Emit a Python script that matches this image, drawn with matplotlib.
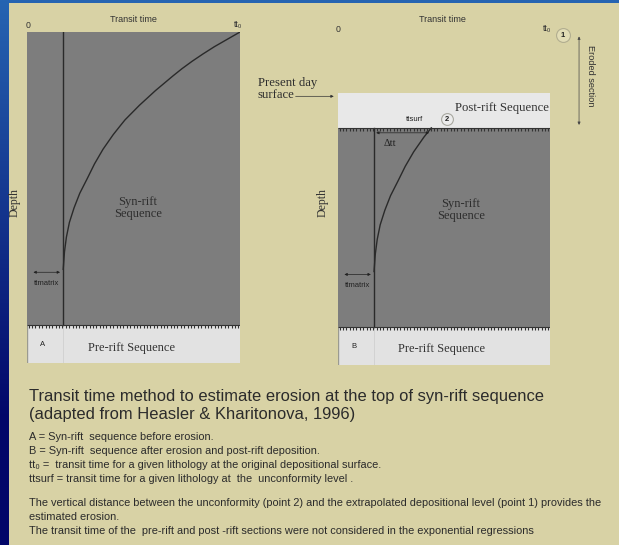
import numpy as np
import matplotlib
matplotlib.use("Agg")
import matplotlib.pyplot as plt
from matplotlib import patheffects as pe

W, H, DPI = 619, 545, 100

# Schematic depth levels (fraction of the original syn-rift thickness,
# 0 = original depositional surface)
SYN_BASE = 1.0
PRE_BASE = 1.13
UNCONFORMITY = 0.318
PRESENT_SURFACE = 0.199

# Normalised transit times
TT0 = 1.0
TT_MATRIX = 0.17

# Compaction trend of the syn-rift sequence: transit time vs depth
depth = [0.000, 0.025, 0.050, 0.075, 0.100, 0.125, 0.150, 0.200, 0.250, 0.300,
         0.318, 0.350, 0.400, 0.450, 0.500, 0.550, 0.600, 0.650, 0.700, 0.750, 0.810]
transit_time = [1.000, 0.940, 0.880, 0.826, 0.775, 0.728, 0.685, 0.603, 0.528, 0.460,
                0.440, 0.405, 0.357, 0.317, 0.283, 0.248, 0.221, 0.199, 0.185, 0.176, 0.170]

title_lines = ["Transit time method to estimate erosion at the top of syn-rift sequence",
               "(adapted from Heasler & Kharitonova, 1996)"]
note_lines = ["A = Syn-rift  sequence before erosion.",
              "B = Syn-rift  sequence after erosion and post-rift deposition.",
              "tt\u2080 =  transit time for a given lithology at the original depositional surface.",
              "ttsurf = transit time for a given lithology at  the  unconformity level ."]
remark_lines = ["The vertical distance between the unconformity (point 2) and the extrapolated depositional level (point 1) provides the",
                "estimated erosion.",
                "The transit time of the  pre-rift and post -rift sections were not considered in the exponential regressions"]

BEIGE = "#D8D2A5"
GRAY = "#7D7D7D"
LIGHT = "#E2E2E2"
POST = "#E8E8E8"
INK = "#2A2A2A"
SERIF = ["Liberation Serif", "DejaVu Serif"]
SANS = ["Liberation Sans", "DejaVu Sans"]

fig = plt.figure(figsize=(W / DPI, H / DPI), dpi=DPI)

# ---- background: blue slide frame with beige page ----
bg = fig.add_axes([0, 0, 1, 1], zorder=0)
bg.set_xlim(0, W)
bg.set_ylim(H, 0)
bg.axis("off")
yy = np.linspace(0, 1, 200)[:, None]
xx = np.linspace(0, 1, 200)[None, :]
top_c = np.array([38, 100, 178]) / 255
bot_c = np.array([2, 6, 105]) / 255
t = np.clip(yy * 1.3 - xx * 0.1, 0, 1)
grad = top_c[None, None, :] * (1 - t[..., None]) + bot_c[None, None, :] * t[..., None]
bg.imshow(grad, extent=[0, W, H, 0], aspect="auto", zorder=0)
bg.add_patch(plt.Rectangle((9, 3), W - 9, H - 3, color=BEIGE, lw=0, zorder=1))


def px_axes(left, top, right, bottom):
    return fig.add_axes([left / W, 1 - bottom / H, (right - left) / W, (bottom - top) / H],
                        zorder=2)


def unconformity(ax, level):
    ax.plot([0, TT0], [level, level], color="#333333", lw=0.8,
            path_effects=[pe.withTickedStroke(angle=-90, spacing=2.4, length=0.9)],
            solid_capstyle="butt", zorder=5)


def panel(ax, letter, eroded):
    ax.set_xlim(0, TT0)
    ax.set_ylim(PRE_BASE, 0)
    ax.axis("off")
    top = UNCONFORMITY if eroded else 0.0
    ax.fill_between([0, TT0], top, SYN_BASE, color=GRAY, lw=0, zorder=1)
    ax.fill_between([0, TT0], SYN_BASE, PRE_BASE, color=LIGHT, lw=0, zorder=1)
    ax.plot([0, 0], [SYN_BASE, PRE_BASE], color="#9A9A90", lw=1.0, zorder=2)
    if eroded:
        ax.fill_between([0, TT0], PRESENT_SURFACE, UNCONFORMITY, color=POST, lw=0, zorder=1)
        unconformity(ax, UNCONFORMITY)
    unconformity(ax, SYN_BASE)
    ax.plot([TT_MATRIX, TT_MATRIX], [top, SYN_BASE], color=INK, lw=1.0, zorder=3)
    ax.plot([TT_MATRIX, TT_MATRIX], [SYN_BASE, PRE_BASE], color="#CFCFCF", lw=0.6, zorder=2)

    d = np.array(depth)
    tt = np.array(transit_time)
    keep = d >= top - 1e-9
    ax.plot(tt[keep], d[keep], color=INK, lw=1.0, zorder=3, solid_joinstyle="round")

    # ttmatrix arrow
    ax.annotate("", xy=(0.03, 0.82), xytext=(TT_MATRIX - 0.015, 0.82),
                arrowprops=dict(arrowstyle="<|-|>", color="#222", lw=0.5,
                                mutation_scale=4, shrinkA=0, shrinkB=0), zorder=4)
    ax.text(0.09, 0.858, "ttmatrix", fontsize=5.5, family=SANS, color="#222",
            ha="center", va="center", zorder=4)

    ax.text(0.52 if not eroded else 0.58, 0.60, "Syn-rift\nSequence", family=SERIF,
            fontsize=9, color="#2E2E2E", ha="center", va="center", linespacing=1.05, zorder=4)
    ax.text(0.075, 1.066, letter, family=SANS, fontsize=5.5, color="#222",
            ha="center", va="center", zorder=4)
    ax.text(0.49, 1.077, "Pre-rift Sequence", family=SERIF, fontsize=9,
            color="#333", ha="center", va="center", zorder=4)


axA = px_axes(27, 32, 240, 32 + PRE_BASE * 293)
axB = px_axes(338, 35, 550, 35 + PRE_BASE * 292)
panel(axA, "A", eroded=False)
panel(axB, "B", eroded=True)

# ---- panel B extras ----
i_unc = depth.index(UNCONFORMITY)
tt_surf = transit_time[i_unc]
axB.annotate("", xy=(TT_MATRIX + 0.01, UNCONFORMITY + 0.017),
             xytext=(tt_surf - 0.01, UNCONFORMITY + 0.017),
             arrowprops=dict(arrowstyle="<|-|>", color="#222", lw=0.5,
                             mutation_scale=4, shrinkA=0, shrinkB=0), zorder=4)
axB.text(0.245, 0.372, "\u0394tt", family=SERIF, fontsize=7.5, color="#222",
         ha="center", va="center", zorder=4)
axB.text(0.36, 0.288, "ttsurf", family=SANS, fontsize=5.5, color="#222",
         ha="center", va="center", zorder=4)
axB.plot([0.514], [0.288], "o", ms=8.5, mfc="#ECECEC", mec="#A8A8A0", mew=0.8,
         zorder=4)
axB.text(0.514, 0.29, "2", family=SANS, fontsize=5.5, weight="bold", color="#222",
         ha="center", va="center", zorder=5)
axB.text(0.995, 0.25, "Post-rift Sequence", family=SERIF, fontsize=9.2, color="#333",
         ha="right", va="center", zorder=4)

# point 1 at the original depositional surface
axB.plot([1.06], [0.0], "o", ms=10, mfc="#E2DDB6", mec="#B2AE90", mew=0.8,
         zorder=4, clip_on=False)
axB.text(1.06, 0.002, "1", family=SANS, fontsize=5.5, weight="bold", color="#222",
         ha="center", va="center", zorder=5, clip_on=False)

# eroded section arrow
axB.annotate("", xy=(1.137, 0.005), xytext=(1.137, UNCONFORMITY - 0.01),
             arrowprops=dict(arrowstyle="<|-|>", color="#444", lw=0.5,
                             mutation_scale=4, shrinkA=0, shrinkB=0),
             annotation_clip=False)
axB.text(1.19, 0.14, "Eroded section", family=SANS, fontsize=6.6, color="#333",
         rotation=-90, ha="center", va="center", clip_on=False)

# present day surface
axB.annotate("", xy=(-0.02, 0.21), xytext=(-0.2, 0.21),
             arrowprops=dict(arrowstyle="-|>", color="#333", lw=0.5,
                             mutation_scale=4, shrinkA=0, shrinkB=0),
             annotation_clip=False)
axB.text(-0.378, 0.185, "Present day\nsurface", family=SERIF, fontsize=9.2,
         color="#2E2E2E", ha="left", va="center", linespacing=1.1, clip_on=False)

# ---- axis annotations above / beside the panels ----
for x0, x1, y0, yt, xd in [(28, 238, 25, 19, 15), (338, 547, 29, 20, 323)]:
    bg.text(x0, y0, "0", family=SANS, fontsize=6.3, color="#333", ha="center",
            va="center", zorder=3)
    bg.text(x1, y0, "tt\u2080", family=SANS, fontsize=6.3, color="#333", ha="center",
            va="center", zorder=3)
    bg.text((x0 + x1) / 2, yt, "Transit time", family=SANS, fontsize=6.5,
            color="#333", ha="center", va="center", zorder=3)
    bg.text(xd, 203, "Depth", family=SERIF, fontsize=8.5, color="#333",
            rotation=90, ha="center", va="center", zorder=3)

# ---- caption ----
for k, s in enumerate(title_lines):
    bg.text(29, 396 + 18 * k, s, family=SANS, fontsize=11.9, color="#2B2B2B",
            ha="left", va="center", zorder=3)
for k, s in enumerate(note_lines):
    bg.text(29, 437 + 14 * k, s, family=SANS, fontsize=7.9, color="#2B2B2B",
            ha="left", va="center", zorder=3)
for k, s in enumerate(remark_lines):
    bg.text(29, 503 + 14 * k, s, family=SANS, fontsize=7.9, color="#2B2B2B",
            ha="left", va="center", zorder=3)

fig.savefig("out.png", dpi=DPI)
